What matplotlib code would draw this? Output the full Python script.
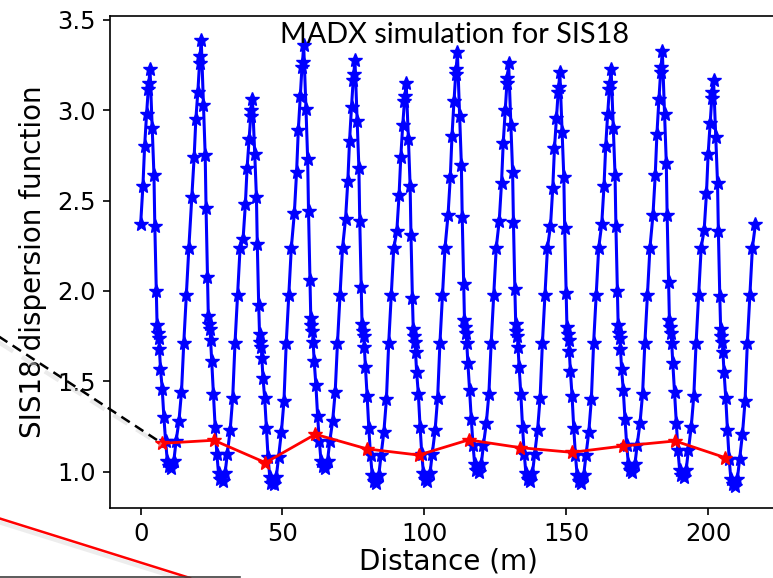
"""Dispersion function along SIS18 (MADX) with measured points, as shown on the slide."""
import matplotlib
matplotlib.use("Agg")
import matplotlib.pyplot as plt
from matplotlib.lines import Line2D

# ---- data -----------------------------------------------------------------
cell_length = 18.06  # SIS18 has 12 identical lattice cells
cell_offsets = [0.0, 0.8, 1.4, 2.1, 2.7, 2.9, 3.3, 4.1, 4.7, 5.0, 5.5, 5.8, 6.0, 6.4,
                6.6, 7.0, 7.6, 8.2, 8.8, 9.4, 10.0, 10.8, 11.7, 12.5, 13.5, 14.4,
                15.2, 16.1, 17.0]

cell_1 = [2.37, 2.58, 2.80, 2.98, 3.12, 3.15, 3.23, 2.90, 2.64, 2.36, 2.00, 1.81, 1.77, 1.74, 1.68,
          1.57, 1.46, 1.30, 1.17, 1.06, 1.03, 1.02, 1.06, 1.17, 1.28, 1.44, 1.71, 1.98, 2.24]
cell_2 = [2.52, 2.74, 2.95, 3.10, 3.26, 3.30, 3.39, 3.03, 2.75, 2.46, 2.08, 1.86, 1.82, 1.79, 1.73,
          1.61, 1.43, 1.25, 1.10, 0.99, 0.96, 0.95, 0.99, 1.10, 1.23, 1.41, 1.71, 1.98, 2.24]
cell_3 = [2.29, 2.48, 2.68, 2.84, 2.97, 3.00, 3.06, 2.76, 2.52, 2.26, 1.92, 1.76, 1.72, 1.69, 1.63,
          1.52, 1.41, 1.24, 1.08, 0.97, 0.94, 0.93, 0.97, 1.08, 1.22, 1.39, 1.71, 1.98, 2.24]
cell_4 = [2.43, 2.66, 2.89, 3.08, 3.24, 3.27, 3.36, 3.01, 2.73, 2.44, 2.06, 1.85, 1.81, 1.78, 1.72,
          1.61, 1.48, 1.31, 1.17, 1.06, 1.03, 1.02, 1.06, 1.17, 1.28, 1.44, 1.71, 1.98, 2.24]
cell_5 = [2.40, 2.61, 2.83, 3.02, 3.17, 3.20, 3.28, 2.94, 2.68, 2.39, 2.02, 1.82, 1.78, 1.75, 1.69,
          1.58, 1.42, 1.24, 1.09, 0.98, 0.95, 0.94, 0.98, 1.09, 1.22, 1.40, 1.71, 1.98, 2.24]
cell_6 = [2.33, 2.53, 2.74, 2.92, 3.05, 3.08, 3.15, 2.84, 2.58, 2.31, 1.96, 1.79, 1.75, 1.72, 1.66,
          1.55, 1.43, 1.25, 1.10, 0.99, 0.96, 0.95, 0.99, 1.10, 1.23, 1.41, 1.71, 1.98, 2.24]
cell_7 = [2.42, 2.63, 2.86, 3.05, 3.20, 3.23, 3.32, 2.97, 2.70, 2.41, 2.04, 1.84, 1.80, 1.77, 1.71,
          1.60, 1.45, 1.29, 1.15, 1.04, 1.01, 1.00, 1.04, 1.15, 1.27, 1.43, 1.71, 1.98, 2.24]
cell_8 = [2.39, 2.60, 2.82, 3.00, 3.15, 3.18, 3.26, 2.92, 2.66, 2.38, 2.01, 1.82, 1.78, 1.75, 1.69,
          1.58, 1.43, 1.25, 1.10, 0.99, 0.96, 0.95, 0.99, 1.10, 1.23, 1.41, 1.71, 1.98, 2.24]
cell_9 = [2.36, 2.57, 2.79, 2.96, 3.10, 3.13, 3.21, 2.88, 2.63, 2.35, 1.99, 1.80, 1.76, 1.73, 1.67,
          1.56, 1.42, 1.24, 1.09, 0.98, 0.95, 0.94, 0.98, 1.09, 1.22, 1.40, 1.71, 1.98, 2.24]
cell_10 = [2.37, 2.58, 2.80, 2.98, 3.12, 3.15, 3.23, 2.90, 2.64, 2.36, 2.00, 1.81, 1.77, 1.74, 1.68,
           1.57, 1.45, 1.29, 1.15, 1.04, 1.01, 1.00, 1.04, 1.15, 1.27, 1.43, 1.71, 1.98, 2.24]
cell_11 = [2.42, 2.64, 2.87, 3.06, 3.21, 3.24, 3.33, 2.98, 2.71, 2.42, 2.05, 1.84, 1.80, 1.77, 1.71,
           1.60, 1.44, 1.27, 1.12, 1.01, 0.98, 0.97, 1.01, 1.12, 1.25, 1.42, 1.71, 1.98, 2.24]
cell_12 = [2.34, 2.54, 2.76, 2.93, 3.07, 3.10, 3.17, 2.85, 2.60, 2.33, 1.97, 1.79, 1.75, 1.72, 1.66,
           1.55, 1.41, 1.23, 1.07, 0.96, 0.93, 0.92, 0.96, 1.07, 1.21, 1.39, 1.71, 1.98, 2.24]
cells = [cell_1, cell_2, cell_3, cell_4, cell_5, cell_6,
         cell_7, cell_8, cell_9, cell_10, cell_11, cell_12]
end_s = 216.72
end_d = 2.37

bpm_s = [7.6, 25.8, 44.0, 61.6, 79.8, 98.0, 115.6, 133.8, 152.0, 170.0, 188.4, 206.0]
bpm_d = [1.157, 1.174, 1.050, 1.207, 1.126, 1.092, 1.176, 1.133, 1.107, 1.142, 1.170, 1.078]

# ---- assemble the MADX curve ------------------------------------------------
madx_s = []
madx_d = []
for k, cell in enumerate(cells):
    for off, d in zip(cell_offsets, cell):
        madx_s.append(k * cell_length + off)
        madx_d.append(d)
madx_s.append(end_s)
madx_d.append(end_d)

# ---- figure -----------------------------------------------------------------
W, H = 773, 578
fig = plt.figure(figsize=(W / 100, H / 100), dpi=100)
fig.set_facecolor("white")
ax = fig.add_axes([110 / W, 70 / H, 676 / W, 492 / H])

ax.plot(madx_s, madx_d, "b-*", linewidth=2.2, markersize=10)
ax.plot(bpm_s, bpm_d, "r-*", linewidth=2.0, markersize=10)

ax.set_xlim(-10.8, 227.5)
ax.set_ylim(0.799, 3.522)
ax.set_xticks([0, 50, 100, 150, 200])
ax.set_yticks([1.0, 1.5, 2.0, 2.5, 3.0, 3.5])

ax.set_xlabel("Distance (m)", fontsize=20, labelpad=1)
ax.set_ylabel("SIS18 dispersion function", fontsize=20, labelpad=7)
ax.tick_params(labelsize=17.5, length=5.3, width=1.2, pad=5)
for sp in ax.spines.values():
    sp.set_linewidth(1.2)

fig.text(455 / W, 1 - 43 / H, "MADX simulation for SIS18", fontsize=20.8,
         family="Lato", ha="center", va="baseline")


# ---- slide annotations around the chart -------------------------------------
def px_line(x0, y0, x1, y1, **kw):
    fig.add_artist(Line2D([x0 / W, x1 / W], [1 - y0 / H, 1 - y1 / H],
                          transform=fig.transFigure, **kw))


px_line(-5, 340, 161, 445, color="#d8d8d8", linewidth=3, alpha=0.5, linestyle=(0, (4, 2.5)))
px_line(-5, 334, 160, 442, color="black", linewidth=1.8, linestyle=(0, (4, 2.5)))
px_line(-5, 521, 190, 582, color="#d8d8d8", linewidth=3, alpha=0.45)
px_line(-5, 517, 190, 578, color="red", linewidth=1.8)
px_line(0, 577, 240, 577, color="#404040", linewidth=1.2)

fig.savefig("out.png", dpi=100)
